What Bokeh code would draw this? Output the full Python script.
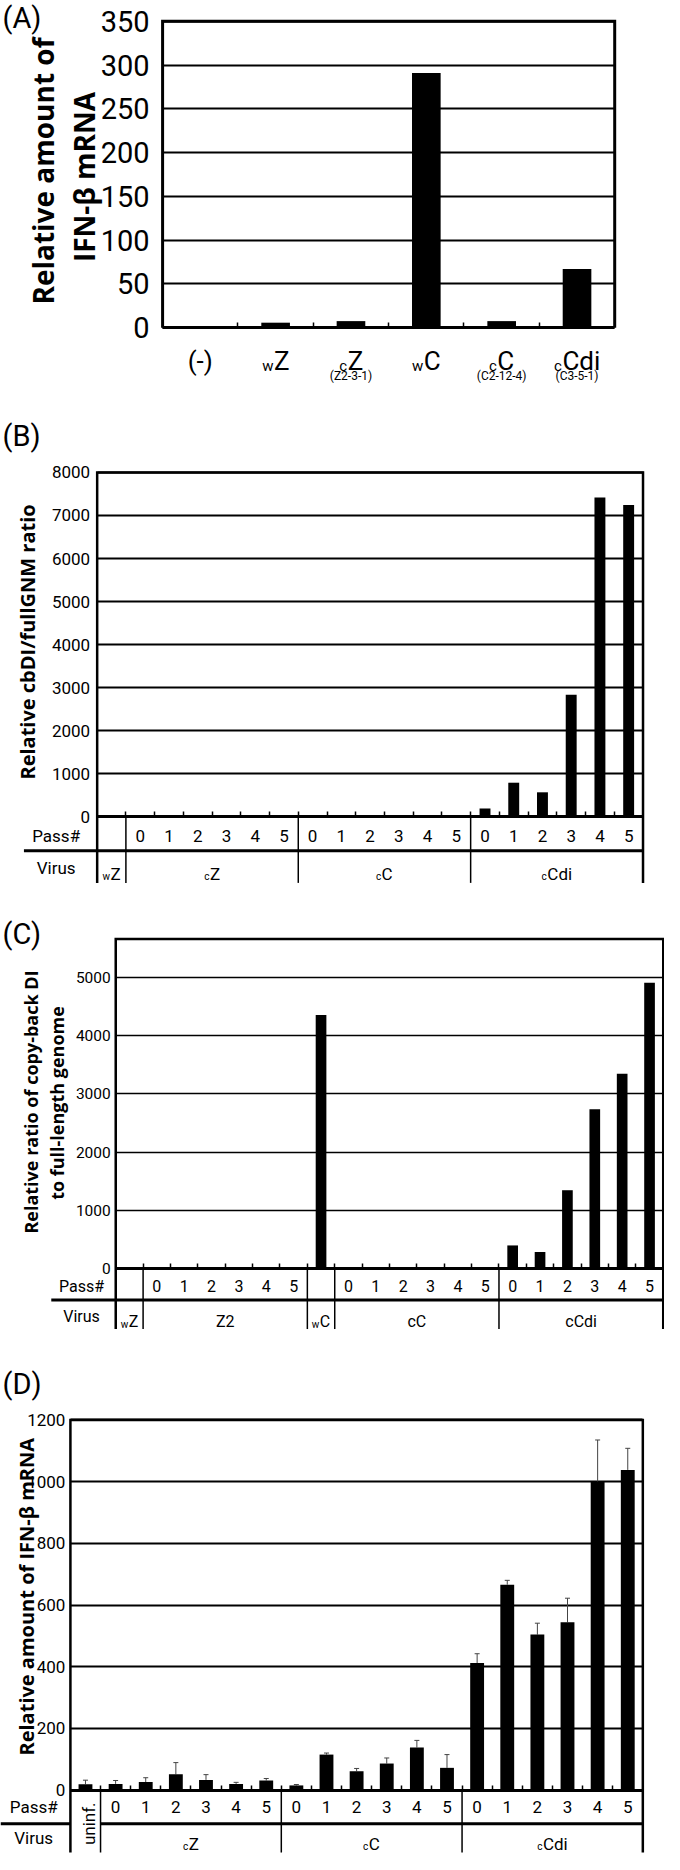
import numpy as np
from bokeh.plotting import figure
from bokeh.models import Range1d, FixedTicker, LinearAxis, ColumnDataSource, Whisker, TeeHead
from bokeh.layouts import column
from bokeh.embed import file_html
from bokeh.resources import INLINE
from bokeh.core.properties import value

# ---------------- data ----------------
PASS6 = ["0", "1", "2", "3", "4", "5"]

A_SUB = ["", "w", "c", "w", "c", "c"]
A_MAIN = ["(-)", "Z", "Z", "C", "C", "Cdi"]
A_NOTE = ["", "", "(Z2-3-1)", "", "(C2-12-4)", "(C3-5-1)"]
A_VALUES = [0, 5.7, 7.5, 291, 7.5, 67]
A_TICKS = [0, 50, 100, 150, 200, 250, 300, 350]

B_GROUP_SUB = ["w", "c", "c", "c"]
B_GROUP_MAIN = ["Z", "Z", "C", "Cdi"]
B_GROUP_PASSES = [[""], PASS6, PASS6, PASS6]
B_VALUES = [0, 0, 0, 0, 0, 0, 0, 0, 0, 0, 0, 0, 0, 192, 791, 568, 2834, 7419, 7243]
B_TICKS = [0, 1000, 2000, 3000, 4000, 5000, 6000, 7000, 8000]

C_GROUP_SUB = ["w", "", "w", "", ""]
C_GROUP_MAIN = ["Z", "Z2", "C", "cC", "cCdi"]
C_GROUP_PASSES = [[""], PASS6, [""], PASS6, PASS6]
C_VALUES = [0, 0, 0, 0, 0, 0, 0, 4353, 0, 0, 0, 0, 0, 0, 397, 284, 1345, 2736, 3343, 4909]
C_TICKS = [0, 1000, 2000, 3000, 4000, 5000]

D_GROUP_SUB = ["", "c", "c", "c"]
D_GROUP_MAIN = ["uninf.", "Z", "C", "Cdi"]
D_GROUP_PASSES = [[""], PASS6, PASS6, PASS6]
D_VALUES = [19, 20, 26, 51, 33, 20, 31, 15, 115, 61, 86, 138, 72, 412, 666, 504, 544, 1000, 1038]
D_ERRORS = [13, 11, 14, 38, 17, 5, 6.5, 3, 5, 9, 18, 23, 43, 30, 14, 37, 78, 135, 70]
D_TICKS = [0, 200, 400, 600, 800, 1000, 1200]

# ---------------- layout helpers ----------------
W_PX = 664
SX = 664 / 680
SY = 1854 / 1870
NARROW = "Roboto"
BOLDF = "Open Sans"
AW = {"Z": .56, "C": .65, "d": .56, "i": .24, "w": .76, "c": .52, "2": .56,
      "(": .34, ")": .35, "-": .28}


def est_w(s, size):
    return sum(AW.get(ch, .55) for ch in s) * size


class Panel:
    def __init__(self, ref_top, height, L, R, n, zero, vpx, vval):
        self.L, self.R, self.n, self.zero = L, R, n, zero
        self.k = (zero - vpx) / vval
        ry_bot = ref_top + height / SY
        p = figure(width=W_PX, height=height, output_backend="svg", toolbar_location=None,
                   x_range=Range1d(self.X(0), self.X(680)),
                   y_range=Range1d(self.Y(ry_bot), self.Y(ref_top)),
                   x_axis_location=None, min_border=0)
        p.outline_line_color = None
        p.xgrid.visible = False
        self.p = p

    def X(self, rx):
        return (rx - self.L) / (self.R - self.L) * self.n

    def Y(self, ry):
        return (self.zero - ry) / self.k

    def ux(self, px):
        return px * self.n / (self.R - self.L)


def txt(p, x, y, s, size, font=NARROW, align="center", baseline="middle", angle=0.0, bold=False):
    p.text(x=[x], y=[y], text=[s], text_font=value(font), text_font_size=value(f"{size}px"),
           text_align=align, text_baseline=baseline, angle=angle,
           text_font_style="bold" if bold else "normal", text_color="black")


def sub_label(pn, xc, ry_base, sub, main, size, sub_size, drop):
    p = pn.p
    if not sub:
        txt(p, xc, pn.Y(ry_base), main, size, baseline="alphabetic")
        return
    wm = est_w(main, size)
    ws = est_w(sub, sub_size)
    ax = xc - pn.ux((wm - ws) / 2)
    txt(p, ax, pn.Y(ry_base), main, size, align="left", baseline="alphabetic")
    txt(p, ax - pn.ux(0.5), pn.Y(ry_base + drop), sub, sub_size, align="right", baseline="alphabetic")


def setup_yaxis(pn, ticks, fsize, standoff, grid_w):
    p = pn.p
    ya = p.yaxis[0]
    ya.fixed_location = 0
    ya.ticker = FixedTicker(ticks=ticks)
    ya.bounds = (ticks[0], ticks[-1])
    ya.axis_line_color = None
    ya.major_tick_in = 0
    ya.major_tick_out = 0
    ya.minor_tick_in = 0
    ya.minor_tick_out = 0
    ya.major_tick_line_color = None
    ya.minor_tick_line_color = None
    ya.major_label_standoff = standoff
    ya.major_label_text_font = NARROW
    ya.major_label_text_font_size = f"{fsize}px"
    ya.major_label_text_color = "black"
    g = p.ygrid[0]
    g.grid_line_color = "black"
    g.grid_line_width = grid_w
    try:
        g.cross_bounds = (0, pn.n)
    except Exception:
        pass


def setup_xaxis(pn, lw):
    ticks = list(range(1, pn.n))
    xa = LinearAxis(fixed_location=0, ticker=FixedTicker(ticks=ticks), bounds=(0, pn.n),
                    axis_line_width=lw, axis_line_color="black",
                    major_tick_in=5, major_tick_out=0, major_tick_line_width=1.5,
                    major_tick_line_color="black", minor_tick_line_color=None,
                    major_label_overrides={t: "" for t in ticks})
    pn.p.add_layout(xa, "below")


def box(pn, top_val, bot_ry, lw):
    yb = pn.Y(bot_ry)
    pn.p.line(x=[0, 0, pn.n, pn.n], y=[yb, top_val, top_val, yb], line_width=lw,
              line_color="black", line_join="miter")


def table(pn, g_sub, g_main, g_passes, mid_ry, bot_ry, thick_left_rx, lab_rx,
          pass_ry, virus_ry, fsize, sub_size, skip_first=False):
    p = pn.p
    sizes = [len(g) for g in g_passes]
    edges = np.concatenate([[0], np.cumsum(sizes)])
    inner = [float(e) for e in edges[1:-1]]
    yb = pn.Y(bot_ry)
    p.segment(x0=inner, y0=[0] * len(inner), x1=inner, y1=[yb] * len(inner),
              line_color="black", line_width=1.5)
    ym = pn.Y(mid_ry)
    if skip_first:
        p.segment(x0=[pn.X(thick_left_rx), float(edges[1])], y0=[ym, ym],
                  x1=[0, pn.n], y1=[ym, ym], line_color="black", line_width=3)
    else:
        p.segment(x0=[pn.X(thick_left_rx)], y0=[ym], x1=[pn.n], y1=[ym],
                  line_color="black", line_width=3)
    txt(p, pn.X(lab_rx), pn.Y(pass_ry), "Pass#", fsize)
    txt(p, pn.X(lab_rx), pn.Y(virus_ry), "Virus", fsize)
    passes = [s for g in g_passes for s in g]
    xs = [i + 0.5 for i, s in enumerate(passes) if s]
    labs = [s for s in passes if s]
    p.text(x=xs, y=[pn.Y(pass_ry)] * len(xs), text=labs, text_font=value(NARROW),
           text_font_size=value(f"{fsize}px"), text_align="center", text_baseline="middle",
           text_color="black")
    for gi in range(len(g_passes)):
        if skip_first and gi == 0:
            continue
        xc = (edges[gi] + edges[gi + 1]) / 2
        sub_label(pn, xc, virus_ry + 0.355 * fsize, g_sub[gi], g_main[gi], fsize, sub_size, 3)


heights = [397, 496, 472, 489]
tops = np.cumsum([0] + heights) / SY

# ---------------- Panel A ----------------
pa = Panel(tops[0], heights[0], 166, 629, 6, 330, 21, 350)
setup_yaxis(pa, A_TICKS, 29, 13, 2)
pa.p.vbar(x=np.arange(len(A_VALUES)) + 0.5, top=A_VALUES, width=0.38, bottom=0,
          fill_color="black", line_color=None)
setup_xaxis(pa, 3)
box(pa, A_TICKS[-1], 330, 3)
txt(pa.p, pa.X(2), pa.Y(18), "(A)", 29, align="left")
txt(pa.p, pa.X(44), pa.Y(172), "Relative amount of", 28, font=BOLDF, angle=np.pi / 2, bold=True)
txt(pa.p, pa.X(86), pa.Y(178), "IFN-β mRNA", 28, font=BOLDF, angle=np.pi / 2, bold=True)
for i in range(len(A_MAIN)):
    sub_label(pa, i + 0.5, 364, A_SUB[i], A_MAIN[i], 26, 15, 5)
    if A_NOTE[i]:
        txt(pa.p, i + 0.5, pa.Y(379), A_NOTE[i], 12)

# ---------------- Panel B ----------------
pb = Panel(tops[1], heights[1], 99, 658, 19, 823.3, 476, 8000)
setup_yaxis(pb, B_TICKS, 17, 7, 1.8)
pb.p.vbar(x=np.arange(len(B_VALUES)) + 0.5, top=B_VALUES, width=0.38, bottom=0,
          fill_color="black", line_color=None)
setup_xaxis(pb, 3)
box(pb, B_TICKS[-1], 890, 2.5)
table(pb, B_GROUP_SUB, B_GROUP_MAIN, B_GROUP_PASSES, 857.7, 890, 24, 57, 843, 875, 17, 10)
txt(pb.p, pb.X(2), pb.Y(439), "(B)", 29, align="left")
txt(pb.p, pb.X(28), pb.Y(647), "Relative cbDI/fullGNM ratio", 20, font=BOLDF, angle=np.pi / 2, bold=True)

# ---------------- Panel C ----------------
pc = Panel(tops[2], heights[2], 118, 678.7, 20, 1279, 985.3, 5000)
setup_yaxis(pc, C_TICKS, 15.5, 5, 1.5)
pc.p.vbar(x=np.arange(len(C_VALUES)) + 0.5, top=C_VALUES, width=0.39, bottom=0,
          fill_color="black", line_color=None)
setup_xaxis(pc, 3)
box(pc, pc.Y(946.7), 1340, 2.5)
table(pc, C_GROUP_SUB, C_GROUP_MAIN, C_GROUP_PASSES, 1310.7, 1340, 52, 83, 1297, 1327, 16, 10)
txt(pc.p, pc.X(2), pc.Y(941.5), "(C)", 29, align="left")
txt(pc.p, pc.X(31.4), pc.Y(1111), "Relative ratio of copy-back DI", 18, font=BOLDF, angle=np.pi / 2, bold=True)
txt(pc.p, pc.X(58), pc.Y(1112), "to full-length genome", 18, font=BOLDF, angle=np.pi / 2, bold=True)

# ---------------- Panel D ----------------
pd_ = Panel(tops[3], heights[3], 71.6, 657.8, 19, 1805, 1431.7, 1200)
setup_yaxis(pd_, D_TICKS, 17, 5, 1.8)
xd = np.arange(len(D_VALUES)) + 0.5
src = ColumnDataSource(dict(x=xd, lower=D_VALUES,
                            upper=[v + e for v, e in zip(D_VALUES, D_ERRORS)]))
wh = Whisker(source=src, base="x", upper="upper", lower="lower", dimension="height",
             line_color="#444444", line_width=1, lower_head=None,
             upper_head=TeeHead(size=5, line_color="#444444", line_width=1))
pd_.p.add_layout(wh)
pd_.p.vbar(x=xd, top=D_VALUES, width=0.46, bottom=0, fill_color="black", line_color=None)
setup_xaxis(pd_, 3)
box(pd_, D_TICKS[-1], 1868, 2.5)
table(pd_, D_GROUP_SUB, D_GROUP_MAIN, D_GROUP_PASSES, 1839, 1868, 0, 34, 1822, 1853, 17, 10,
      skip_first=True)
txt(pd_.p, 0.5 + pd_.ux(4), pd_.Y(1839), D_GROUP_MAIN[0], 17, angle=np.pi / 2)
txt(pd_.p, pd_.X(2), pd_.Y(1395), "(D)", 29, align="left")
txt(pd_.p, pd_.X(27), pd_.Y(1610), "Relative amount of IFN-β mRNA", 20, font=BOLDF,
    angle=np.pi / 2, bold=True)

layout = column(pa.p, pb.p, pc.p, pd_.p, spacing=0)
open("out.html", "w").write(file_html(layout, INLINE))
